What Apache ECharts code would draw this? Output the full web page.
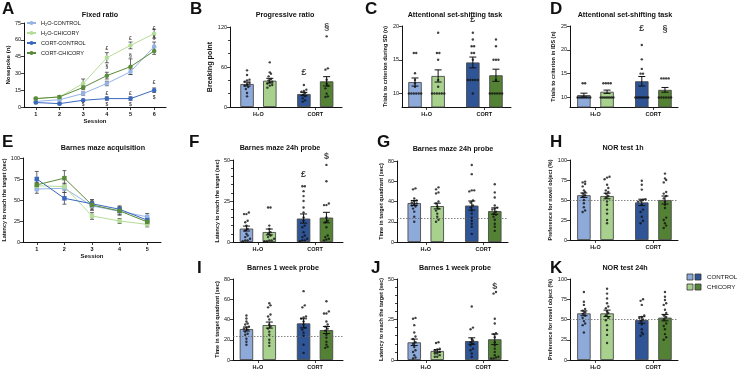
<!DOCTYPE html>
<html>
<head>
<meta charset="utf-8">
<script src="https://cdn.jsdelivr.net/npm/echarts@6/dist/echarts.min.js"></script>
<style>
html,body{margin:0;padding:0;background:#fff;}
#chart{width:739px;height:371px;}
</style>
</head>
<body>
<div id="chart"></div>
<script>
// groups and colours
var groups = ['H₂O', 'CORT'];
var lineNames = ['H₂O-CONTROL', 'H₂O-CHICORY', 'CORT-CONTROL', 'CORT-CHICORY'];
var barColors = ['#8eaadb', '#a9d18e', '#2f5597', '#548235'];
var lineColors = ['#94b4e6', '#b5dc98', '#3a68bd', '#5a8a3a'];

// A - fixed ratio
var frSessions = ['1', '2', '3', '4', '5', '6'];
var frH2oCon = [5, 6.5, 12, 21, 31.5, 54];
var frH2oChi = [7.5, 9, 21, 44, 55, 65.5];
var frCortCon = [4, 3, 6, 7.5, 7.5, 15];
var frCortChi = [7.5, 9, 17.5, 28, 36, 50];
var frH2oConSem = [1, 1, 1.5, 2, 2.5, 4];
var frH2oChiSem = [1, 1, 4, 4.5, 3, 4];
var frCortConSem = [1, 1, 1, 1.5, 1.5, 2];
var frCortChiSem = [1, 1, 2, 3, 7, 3];
var frMarks = [[3, 52.5, '£'], [4, 61, '£'], [5, 70, '£'], [5, 62, '§'], [3, 36, '§'], [4, 46, '§'],
  [3, 11.5, '£'], [4, 11.5, '£'], [5, 21.5, '£'], [2, 2.5, '$'], [3, 2.5, '$'], [4, 2.5, '$'], [5, 8.5, '$']];

// E - barnes maze acquisition
var bmSessions = ['1', '2', '3', '4', '5'];
var bmH2oCon = [63, 64, 43, 36.5, 30];
var bmH2oChi = [67, 66, 31, 25, 21];
var bmCortCon = [75, 52, 45.5, 39, 26];
var bmCortChi = [68, 76, 44, 37, 24];
var bmH2oConSem = [5, 5, 5, 4, 4];
var bmH2oChiSem = [4, 4, 4, 3, 3];
var bmCortConSem = [9, 7, 5, 4, 3];
var bmCortChiSem = [6, 9, 6, 5, 3];

// B - progressive ratio
var prMean = [34.5, 39.5, 19.5, 38.5];
var prSem = [3, 3.5, 2.5, 7];
var prDots = [[55, 48, 41, 40, 38, 36, 34, 32, 30, 27, 21, 16],
  [67, 52, 50, 46, 42, 40, 38, 37, 35, 33, 32, 29],
  [33, 26, 24, 23, 21, 18, 16, 13, 10, 8],
  [106, 58, 56, 41, 35, 32, 28, 20, 16, 15]];
var prMarks = [[2.6, 52, '£'], [3.4, 121, '§']];

// C - set shifting SD
var sdMean = [11.7, 12.6, 14.6, 12.7];
var sdSem = [0.6, 0.9, 0.8, 0.9];
var sdDots = [[10, 10, 10, 10, 10, 10, 11, 11.5, 12, 13, 16, 16],
  [10, 10, 10, 10, 10, 10, 11, 12, 15, 16, 16, 19],
  [19, 18, 17, 17, 16, 16, 15, 12, 12, 12, 12, 12, 10],
  [18, 17, 15, 15, 15, 12, 10, 10, 10, 10, 10, 10]];
var sdMarks = [[2.6, 20.9, '£']];

// D - set shifting IDS
var idsMean = [10.5, 11.2, 13.4, 11.6];
var idsSem = [0.4, 0.35, 1, 0.5];
var idsDots = [[13, 13, 10, 10, 10, 10, 10, 10, 10, 10],
  [13, 13, 13, 13, 10, 10, 10, 10, 10, 10, 10, 10],
  [21, 18, 16, 15, 15, 10, 10, 10, 10, 10, 10, 10, 10],
  [14, 14, 14, 14, 10, 10, 10, 10, 10, 10]];
var idsMarks = [[2.6, 24.5, '£'], [3.4, 24.5, '§']];

// F - latency 24h probe
var lat24Mean = [8.2, 6.1, 14.3, 14.9];
var lat24Sem = [1.5, 1.8, 2.8, 3.2];
var lat24Dots = [[18, 17, 17, 13, 12, 10, 8, 7, 5, 4, 3, 2, 1, 1, 0.5],
  [21, 21, 10, 8, 6, 5, 4, 3, 2, 1, 1, 0.5, 0.5],
  [34, 34, 31, 28, 25, 21, 18, 15, 13, 10, 9, 6, 4, 3, 2, 1, 1, 0.5],
  [47, 37, 23.5, 22.5, 22.5, 15, 13, 12, 9, 4, 3, 2, 1.5, 1]];
var lat24Marks = [[2.6, 41, '£'], [3.4, 52, '$']];

// G - time in quadrant 24h probe
var time24Mean = [38.5, 35.5, 36, 30.5];
var time24Sem = [2.5, 2.8, 4.5, 3.2];
var time24Dots = [[53, 52, 43, 41, 40, 39, 38, 37, 36, 35, 33, 30, 25, 20],
  [54, 52, 49, 48, 40, 38, 35, 33, 31, 28, 25, 22, 20],
  [76, 67, 51, 51, 50, 41, 39, 36, 34, 31, 28, 24, 21, 18, 15, 8],
  [57, 49, 44, 36, 34, 33, 32, 30, 28, 27, 25, 22, 18, 15, 11]];
var time24Chance = 23.5;

// H - NOR 1h
var nor1Mean = [56, 55, 47, 50];
var nor1Sem = [2.8, 3.5, 4, 5];
var nor1Dots = [[73, 72, 70, 67, 62, 60, 58, 56, 54, 50, 46, 41, 37, 35],
  [79, 78, 76, 69, 65, 62, 60, 58, 55, 53, 48, 44, 38, 33, 25, 21],
  [74, 69, 63, 51, 50, 49, 48, 44, 38, 35, 29, 24, 21],
  [83, 77, 75, 72, 60, 58, 55, 52, 48, 44, 40, 28, 25, 21, 18, 15]];
var nor1Chance = 50;

// I - time in quadrant 1 week probe
var time1wMean = [30.6, 34.5, 36.2, 29.6];
var time1wSem = [2, 3, 4.5, 3.5];
var time1wDots = [[44, 41, 38, 36, 35, 33, 32, 31, 30, 28, 26, 25, 21, 18, 15],
  [56, 54, 52, 45, 43, 40, 35, 33, 31, 28, 25, 20, 17, 14],
  [68, 54, 52, 43, 42, 41, 38, 35, 32, 30, 27, 24, 15, 7],
  [58, 48, 46, 46, 38, 35, 33, 31, 29, 25, 22, 18, 15, 13, 12]];
var time1wChance = 23.5;

// J - latency 1 week probe
var lat1wMean = [10.9, 5.6, 11.7, 12.8];
var lat1wSem = [2, 0.8, 2, 3.2];
var lat1wDots = [[26, 25.5, 21.5, 17, 14.5, 13, 11, 10, 8, 6, 5, 3, 1.5, 1],
  [11, 10.5, 7, 6.5, 6, 5, 4, 4, 3, 2, 2],
  [33, 20, 19, 13, 12, 11, 10, 9, 7, 6, 4, 2],
  [42, 41, 25.5, 22.5, 16.5, 16, 14, 11, 9, 7, 5, 3, 2, 1.5, 1, 1]];
var lat1wMarks = [[3.4, 45.5, '$']];

// K - NOR 24h
var nor24Mean = [57.6, 57.6, 49.4, 52.3];
var nor24Sem = [3, 4, 4, 4];
var nor24Dots = [[84, 72, 68, 63, 61, 59, 57, 55, 52, 48, 45, 43, 34],
  [88, 82, 76, 70, 66, 64, 60, 58, 55, 52, 49, 43, 37, 31, 21],
  [75, 73, 68, 55, 53, 52, 50, 48, 44, 38, 34, 32, 30],
  [84, 78, 74, 70, 68, 62, 58, 55, 53, 50, 45, 42, 38, 32, 28, 25]];
var nor24Chance = 50;

var FONT = '"Liberation Sans", "DejaVu Sans", sans-serif';
var INK = '#111';

var grid = [], xAxis = [], yAxis = [], series = [], graphic = [];

// position of bar i (group*2 + control/chicory)
function slotPos(i) {
  return Math.floor(i / 2) * 2 + 1 + (i % 2 ? 0.4 : -0.4);
}

// spread dots that sit at nearly the same value
function swarm(vals, cx, tol) {
  var sorted = vals.slice().sort(function(a, b) { return a - b; });
  var out = [], cl = [];
  function flush() {
    var n = cl.length;
    var step = n > 1 ? Math.min(0.085, 0.44 / (n - 1)) : 0;
    cl.forEach(function(v, i) { out.push([cx + (i - (n - 1) / 2) * step, v]); });
    cl = [];
  }
  sorted.forEach(function(v) {
    if (cl.length && v - cl[0] > tol) flush();
    cl.push(v);
  });
  flush();
  return out;
}

function errItem(cap, color, width) {
  return function(params, api) {
    var x = api.value(0);
    var p1 = api.coord([x, api.value(1)]);
    var p2 = api.coord([x, api.value(2)]);
    var st = { stroke: color, lineWidth: width };
    return {
      type: 'group', children: [
        { type: 'line', shape: { x1: p1[0], y1: p1[1], x2: p2[0], y2: p2[1] }, style: st },
        { type: 'line', shape: { x1: p1[0] - cap, y1: p1[1], x2: p1[0] + cap, y2: p1[1] }, style: st },
        { type: 'line', shape: { x1: p2[0] - cap, y1: p2[1], x2: p2[0] + cap, y2: p2[1] }, style: st }
      ]
    };
  };
}

function yAxisCfg(gi, y) {
  var ax = {
    gridIndex: gi, type: 'value', min: y.min, max: y.max,
    name: y.name, nameLocation: 'middle', nameGap: y.gap, nameRotate: 90,
    nameTextStyle: { fontSize: y.nameSize, fontWeight: 'bold', color: INK, fontFamily: FONT },
    axisLine: { show: true, lineStyle: { color: INK, width: 1 } },
    axisTick: { show: true, length: 3, lineStyle: { color: INK, width: 0.8 } },
    axisLabel: { fontSize: 5.5, color: INK, margin: 3, fontFamily: FONT },
    splitLine: { show: false }
  };
  if (y.interval) ax.interval = y.interval;
  if (y.ticks) {
    ax.axisTick.customValues = y.ticks;
    ax.axisLabel.customValues = y.ticks;
  }
  if (y.minor) {
    ax.minorTick = { show: true, splitNumber: y.minor, length: 2, lineStyle: { color: INK, width: 0.8 } };
  }
  return ax;
}

function addLinePanel(L, cats, y, lines, sems, marks, symbol) {
  var gi = grid.length;
  grid.push({ left: L.left, top: L.top, width: L.width, height: L.height });
  xAxis.push({
    gridIndex: gi, type: 'category', data: cats, boundaryGap: true,
    name: 'Session', nameLocation: 'middle', nameGap: 11,
    nameTextStyle: { fontSize: 6, fontWeight: 'bold', color: INK, fontFamily: FONT },
    axisLine: { show: true, lineStyle: { color: INK, width: 1 } },
    axisTick: { show: true, alignWithLabel: true, length: 3, lineStyle: { color: INK, width: 0.8 } },
    axisLabel: { fontSize: 5.5, fontWeight: 'bold', color: INK, margin: 4, fontFamily: FONT },
    splitLine: { show: false }
  });
  yAxis.push(yAxisCfg(gi, y));
  lines.forEach(function(ln, k) {
    series.push({
      type: 'custom', xAxisIndex: gi, yAxisIndex: gi, silent: true, z: 2,
      encode: { x: 0, y: [1, 2] },
      renderItem: errItem(2, '#444', 0.8),
      data: ln.map(function(v, i) { return [i, v - sems[k][i], v + sems[k][i]]; })
    });
    series.push({
      type: 'line', name: lineNames[k], xAxisIndex: gi, yAxisIndex: gi, z: 3,
      data: ln, symbol: symbol, symbolSize: 4.5, showSymbol: true,
      lineStyle: { width: 1, color: lineColors[k] },
      itemStyle: { color: lineColors[k] }
    });
  });
  if (marks) {
    series.push({
      type: 'scatter', xAxisIndex: gi, yAxisIndex: gi, data: marks, symbolSize: 0.1, silent: true, clip: false, z: 6,
      itemStyle: { color: 'transparent' },
      label: { show: true, position: 'inside', formatter: function(p) { return p.value[2]; }, fontSize: 5, fontWeight: 'bold', color: INK, fontFamily: FONT }
    });
  }
}

function addBarPanel(L, y, mean, sem, dots, marks, chance) {
  var gi = grid.length;
  grid.push({ left: L.left, top: L.top, width: L.width, height: L.height });
  xAxis.push({
    gridIndex: gi, type: 'value', min: L.xMin, max: L.xMax,
    axisLine: { show: true, onZero: false, lineStyle: { color: INK, width: 1 } },
    axisTick: { show: true, customValues: [1, 3], length: 3, lineStyle: { color: INK, width: 0.8 } },
    axisLabel: {
      customValues: [1, 3], fontSize: 5.5, fontWeight: 'bold', color: INK, margin: 4, fontFamily: FONT,
      formatter: function(v) { return groups[Math.round((v - 1) / 2)]; }
    },
    splitLine: { show: false }
  });
  yAxis.push(yAxisCfg(gi, y));
  var bar = {
    type: 'bar', xAxisIndex: gi, yAxisIndex: gi, barWidth: 13.5, z: 2, silent: true,
    itemStyle: { borderColor: '#4a4a4a', borderWidth: 0.9 },
    data: mean.map(function(m, i) {
      return { value: [slotPos(i), m], itemStyle: { color: barColors[i] } };
    })
  };
  if (chance != null) {
    bar.markLine = {
      silent: true, symbol: 'none', label: { show: false },
      lineStyle: { type: [1.5, 1.5], color: '#666', width: 0.8 },
      data: [{ yAxis: chance }]
    };
  }
  series.push(bar);
  series.push({
    type: 'custom', xAxisIndex: gi, yAxisIndex: gi, silent: true, z: 3,
    encode: { x: 0, y: [1, 2] },
    renderItem: errItem(3.5, INK, 1),
    data: mean.map(function(m, i) { return [slotPos(i), m - sem[i], m + sem[i]]; })
  });
  var tol = (y.max - y.min) * 0.035;
  var pts = [];
  dots.forEach(function(d, i) { pts = pts.concat(swarm(d, slotPos(i), tol)); });
  series.push({
    type: 'scatter', xAxisIndex: gi, yAxisIndex: gi, data: pts, symbolSize: 2.4, silent: true, z: 5,
    itemStyle: { color: INK }
  });
  if (marks) {
    series.push({
      type: 'scatter', xAxisIndex: gi, yAxisIndex: gi, data: marks, symbolSize: 0.1, silent: true, clip: false, z: 6,
      itemStyle: { color: 'transparent' },
      label: { show: true, position: 'inside', formatter: function(p) { return p.value[2]; }, fontSize: 9, fontWeight: 'bold', color: INK, fontFamily: FONT }
    });
  }
}

// panels
addLinePanel({ left: 24, top: 23, width: 142, height: 84 }, frSessions,
  { min: 0, max: 75, interval: 15, name: 'Nosepoke (n)', gap: 11, nameSize: 6.2 },
  [frH2oCon, frH2oChi, frCortCon, frCortChi],
  [frH2oConSem, frH2oChiSem, frCortConSem, frCortChiSem], frMarks, 'circle');

addLinePanel({ left: 23, top: 158, width: 138, height: 84 }, bmSessions,
  { min: 0, max: 100, interval: 25, name: 'Latency to reach the target (sec)', gap: 12, nameSize: 5.4 },
  [bmH2oCon, bmH2oChi, bmCortCon, bmCortChi],
  [bmH2oConSem, bmH2oChiSem, bmCortConSem, bmCortChiSem], null, 'rect');

addBarPanel({ left: 230, top: 27, width: 112, height: 80, xMin: 0, xMax: 3.94 },
  { min: 0, max: 120, interval: 60, minor: 3, name: 'Breaking point', gap: 12, nameSize: 7.2 },
  prMean, prSem, prDots, prMarks, null);

addBarPanel({ left: 402, top: 26, width: 109, height: 81, xMin: 0.15, xMax: 3.92 },
  { min: 8, max: 20, ticks: [10, 15, 20], name: 'Trials to criterion during SD (n)', gap: 12, nameSize: 5.5 },
  sdMean, sdSem, sdDots, sdMarks, null);

addBarPanel({ left: 570, top: 26, width: 108, height: 81, xMin: 0.12, xMax: 3.85 },
  { min: 8, max: 25, ticks: [10, 15, 20, 25], name: 'Trials to criterion in IDS (n)', gap: 11, nameSize: 5.5 },
  idsMean, idsSem, idsDots, idsMarks, null);

addBarPanel({ left: 233, top: 160, width: 110, height: 82, xMin: 0.13, xMax: 3.98 },
  { min: 0, max: 50, interval: 25, minor: 5, name: 'Latency to reach the target (sec)', gap: 11, nameSize: 5.4 },
  lat24Mean, lat24Sem, lat24Dots, lat24Marks, null);

addBarPanel({ left: 397, top: 161, width: 111, height: 81, xMin: 0, xMax: 3.86 },
  { min: 0, max: 80, interval: 20, name: 'Time in target quadrant (sec)', gap: 8, nameSize: 5.6 },
  time24Mean, time24Sem, time24Dots, null, time24Chance);

addBarPanel({ left: 570, top: 160, width: 108, height: 80, xMin: 0.12, xMax: 3.85 },
  { min: 0, max: 100, interval: 25, name: 'Preference for novel object (%)', gap: 11, nameSize: 5.5 },
  nor1Mean, nor1Sem, nor1Dots, null, nor1Chance);

addBarPanel({ left: 233, top: 279, width: 110, height: 81, xMin: 0.13, xMax: 3.98 },
  { min: 0, max: 80, interval: 20, name: 'Time in target quadrant (sec)', gap: 12, nameSize: 5.6 },
  time1wMean, time1wSem, time1wDots, null, time1wChance);

addBarPanel({ left: 397, top: 279, width: 111, height: 81, xMin: 0, xMax: 3.86 },
  { min: 0, max: 50, interval: 25, minor: 5, name: 'Latency to reach the target (sec)', gap: 8, nameSize: 5.4 },
  lat1wMean, lat1wSem, lat1wDots, lat1wMarks, null);

addBarPanel({ left: 570, top: 279, width: 108, height: 81, xMin: 0.12, xMax: 3.85 },
  { min: 0, max: 100, interval: 25, name: 'Preference for novel object (%)', gap: 11, nameSize: 5.5 },
  nor24Mean, nor24Sem, nor24Dots, null, nor24Chance);

// titles and panel letters
function txt(x, y, s, size, weight, align) {
  graphic.push({
    type: 'text', x: x, y: y, silent: true,
    style: { text: s, fill: INK, font: weight + ' ' + size + 'px ' + FONT,
      textAlign: align, align: align, textVerticalAlign: 'middle', verticalAlign: 'middle' }
  });
}
[['Fixed ratio', 100, 15], ['Progressive ratio', 285, 15], ['Attentional set-shifting task', 455, 15],
 ['Attentional set-shifting task', 625, 15], ['Barnes maze acquisition', 103, 148], ['Barnes maze 24h probe', 280, 148],
 ['Barnes maze 24h probe', 453, 149], ['NOR test 1h', 623, 148], ['Barnes 1 week probe', 283, 268],
 ['Barnes 1 week probe', 455, 268], ['NOR test 24h', 625, 268]].forEach(function(t) {
  txt(t[1], t[2], t[0], 7.2, 'bold', 'center');
});
[['A', 2, 9.5], ['B', 190, 9.5], ['C', 365, 9.5], ['D', 550, 9.5], ['E', 2, 142.5], ['F', 189, 142.5],
 ['G', 377, 142.5], ['H', 550, 142.5], ['I', 197, 268], ['J', 371, 268], ['K', 550, 268]].forEach(function(t) {
  txt(t[1], t[2], t[0], 17, 'bold', 'left');
});

// bar colour legend
[['CONTROL', 0, 2, 277], ['CHICORY', 1, 3, 287]].forEach(function(r) {
  graphic.push({ type: 'rect', shape: { x: 687, y: r[3] - 3, width: 6, height: 6 }, silent: true,
    style: { fill: barColors[r[1]], stroke: '#333', lineWidth: 0.8 } });
  graphic.push({ type: 'rect', shape: { x: 695, y: r[3] - 3, width: 6, height: 6 }, silent: true,
    style: { fill: barColors[r[2]], stroke: '#333', lineWidth: 0.8 } });
  txt(707, r[3], r[0], 6.2, 'normal', 'left');
});

var myChart = echarts.init(document.getElementById('chart'), null, { renderer: 'canvas' });
myChart.setOption({
  animation: false,
  backgroundColor: '#fff',
  textStyle: { fontFamily: FONT },
  legend: {
    data: lineNames, orient: 'vertical', left: 26, top: 20,
    itemWidth: 9, itemHeight: 5, itemGap: 4, padding: 0,
    textStyle: { fontSize: 5.6, color: INK, fontFamily: FONT },
    selectedMode: false
  },
  grid: grid,
  xAxis: xAxis,
  yAxis: yAxis,
  series: series,
  graphic: graphic
});
</script>
</body>
</html>
